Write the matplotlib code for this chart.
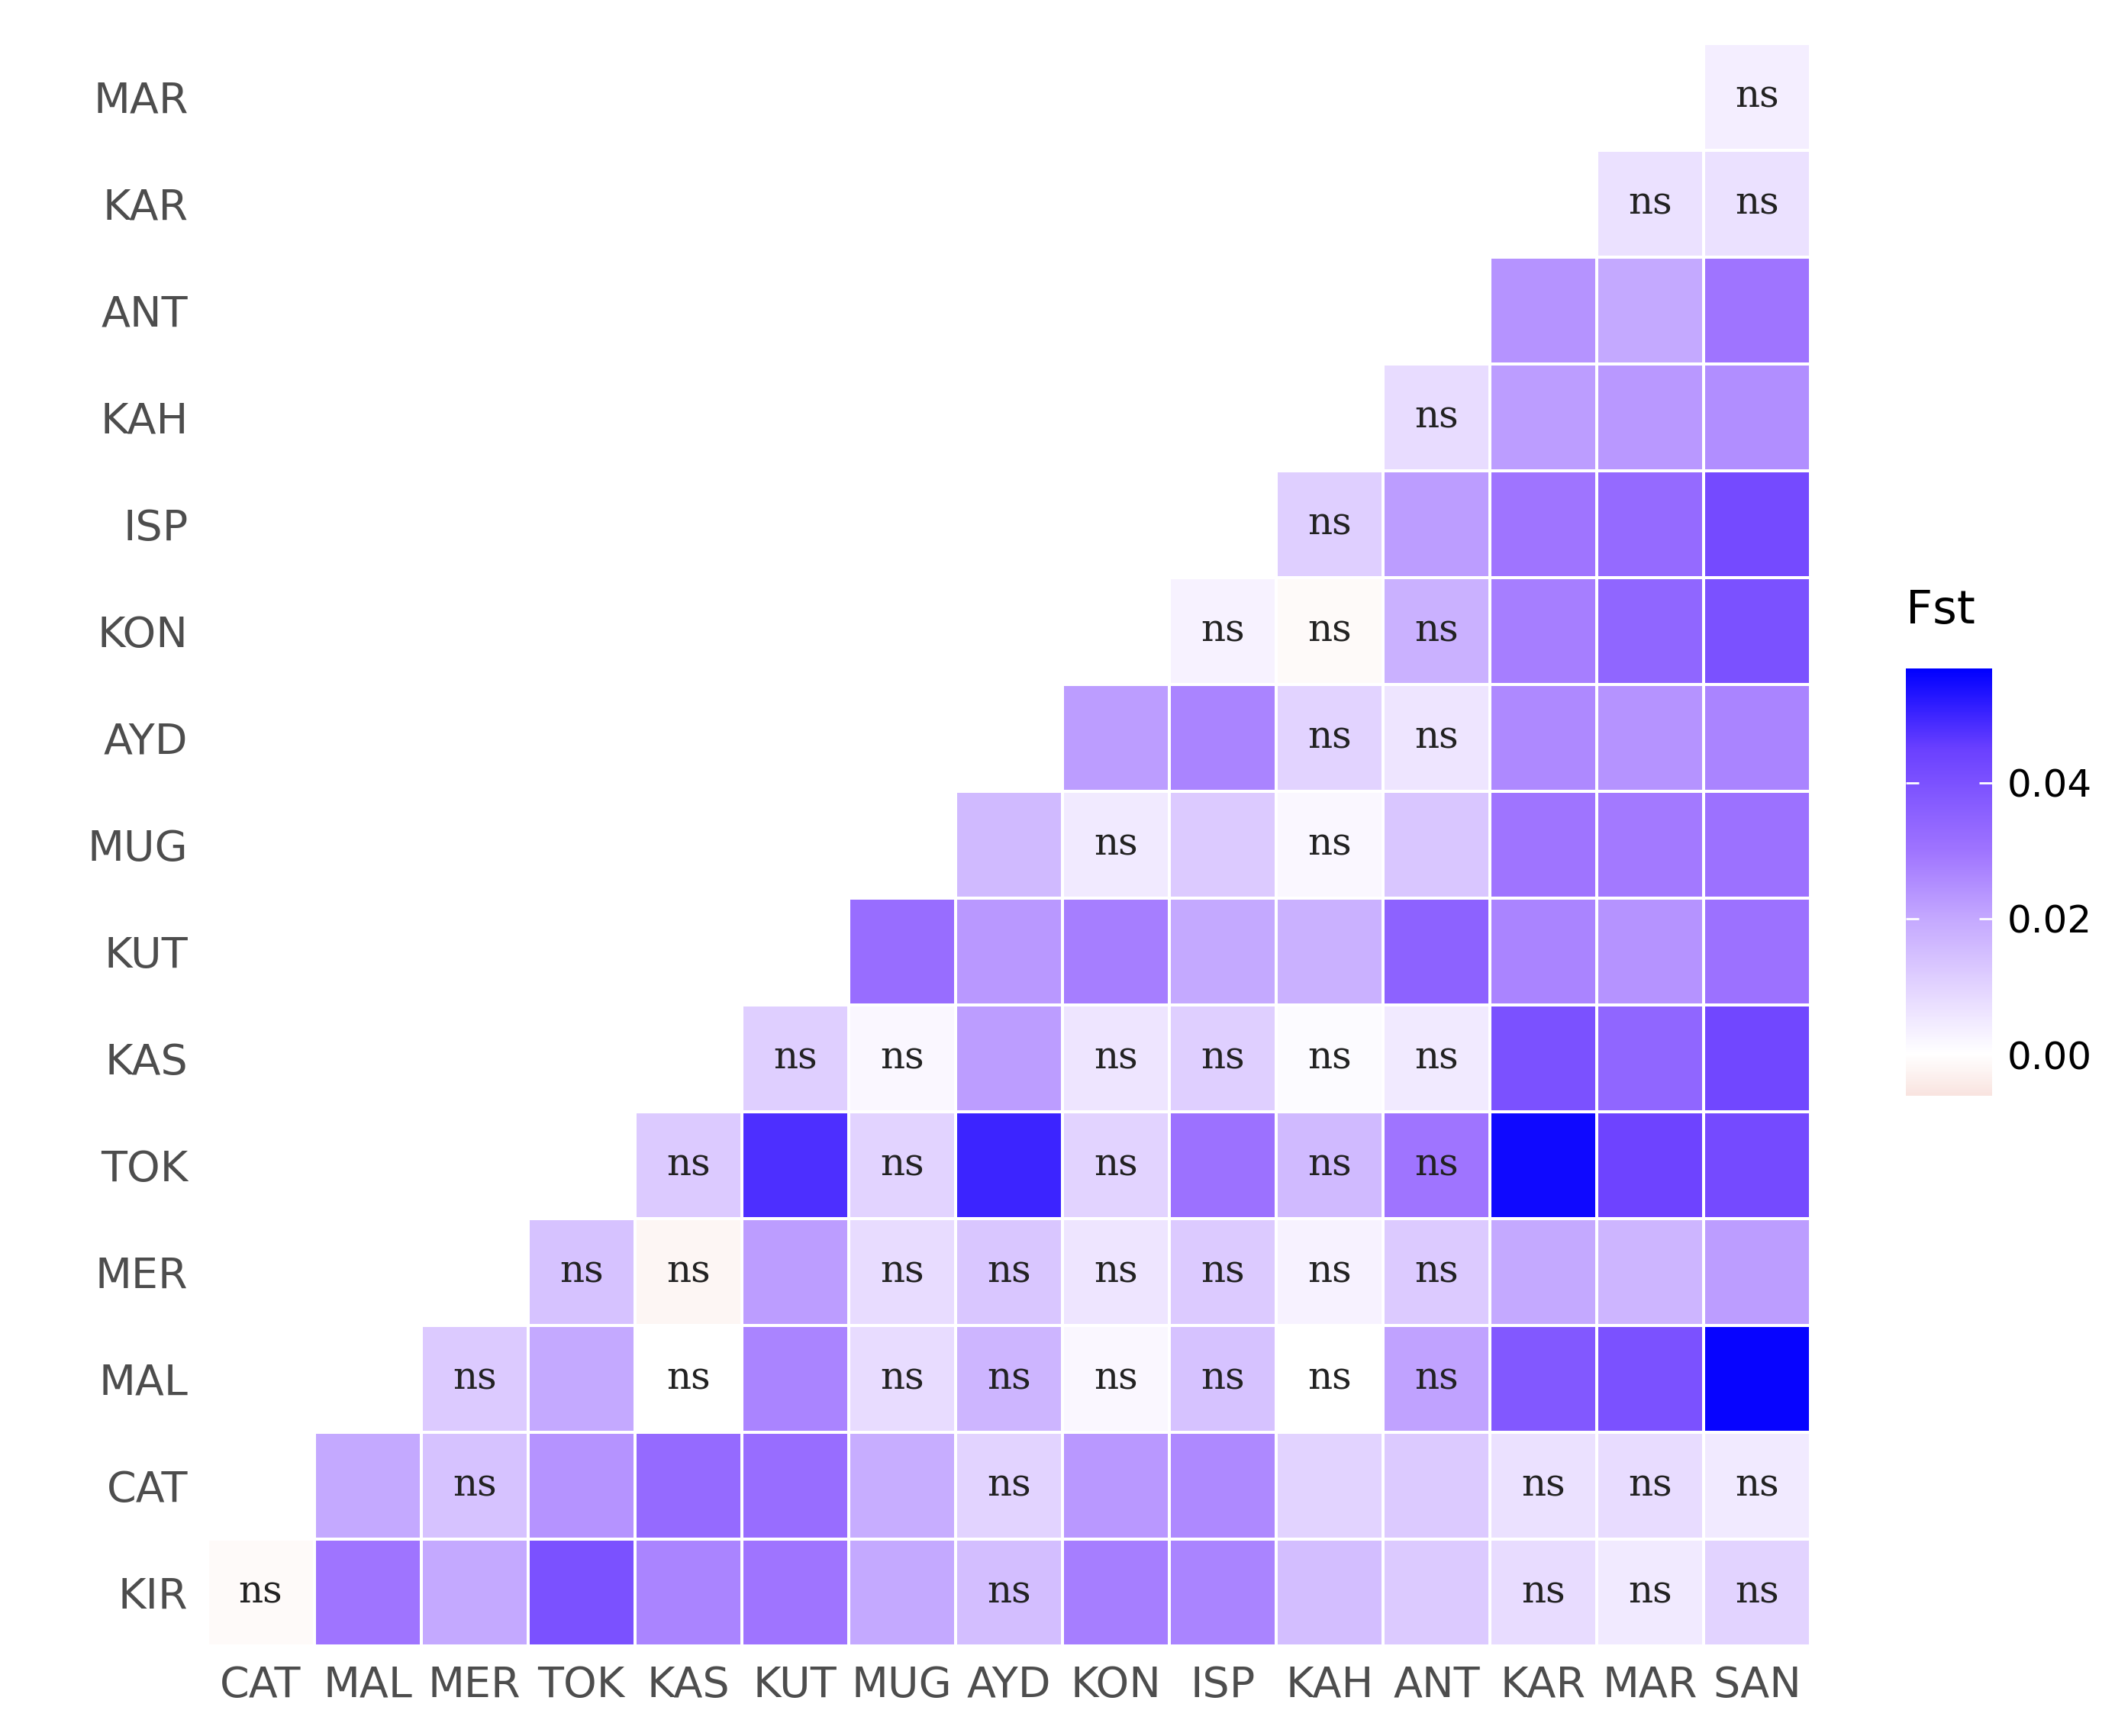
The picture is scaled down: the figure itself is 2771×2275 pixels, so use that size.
import numpy as np
import matplotlib.pyplot as plt
import matplotlib
from matplotlib.colors import LinearSegmentedColormap, Normalize

cols = ["CAT", "MAL", "MER", "TOK", "KAS", "KUT", "MUG", "AYD", "KON", "ISP", "KAH", "ANT", "KAR", "MAR", "SAN"]
rows = ["KIR", "CAT", "MAL", "MER", "TOK", "KAS", "KUT", "MUG", "AYD", "KON", "ISP", "KAH", "ANT", "KAR", "MAR"]

# Fst per row, starting at column index == row index
fst = [
    [-0.001, 0.030, 0.020, 0.040, 0.027, 0.030, 0.020, 0.015, 0.028, 0.027, 0.015, 0.012, 0.008, 0.005, 0.010],
    [0.020, 0.014, 0.024, 0.033, 0.032, 0.019, 0.010, 0.023, 0.026, 0.010, 0.012, 0.007, 0.008, 0.005],
    [0.012, 0.020, 0.000, 0.027, 0.008, 0.017, 0.002, 0.014, 0.000, 0.021, 0.038, 0.040, 0.056],
    [0.014, -0.002, 0.022, 0.008, 0.013, 0.006, 0.012, 0.003, 0.012, 0.020, 0.017, 0.022],
    [0.012, 0.048, 0.010, 0.050, 0.010, 0.031, 0.016, 0.030, 0.055, 0.044, 0.042],
    [0.011, 0.002, 0.022, 0.006, 0.011, 0.001, 0.005, 0.040, 0.034, 0.043],
    [0.032, 0.023, 0.028, 0.020, 0.018, 0.035, 0.027, 0.024, 0.031],
    [0.016, 0.005, 0.012, 0.002, 0.013, 0.030, 0.029, 0.031],
    [0.022, 0.027, 0.010, 0.006, 0.026, 0.024, 0.027],
    [0.003, -0.001, 0.018, 0.028, 0.034, 0.040],
    [0.011, 0.022, 0.030, 0.033, 0.042],
    [0.008, 0.022, 0.023, 0.025],
    [0.024, 0.020, 0.030],
    [0.007, 0.007],
    [0.004],
]
ns = [
    [1, 0, 0, 0, 0, 0, 0, 1, 0, 0, 0, 0, 1, 1, 1],
    [0, 1, 0, 0, 0, 0, 1, 0, 0, 0, 0, 1, 1, 1],
    [1, 0, 1, 0, 1, 1, 1, 1, 1, 1, 0, 0, 0],
    [1, 1, 0, 1, 1, 1, 1, 1, 1, 0, 0, 0],
    [1, 0, 1, 0, 1, 0, 1, 1, 0, 0, 0],
    [1, 1, 0, 1, 1, 1, 1, 0, 0, 0],
    [0, 0, 0, 0, 0, 0, 0, 0, 0],
    [0, 1, 0, 1, 0, 0, 0, 0],
    [0, 0, 1, 1, 0, 0, 0],
    [1, 1, 1, 0, 0, 0],
    [1, 0, 0, 0, 0],
    [1, 0, 0, 0],
    [0, 0, 0],
    [1, 1],
    [1],
]

vmin, vmax = -0.006, 0.0568
stops = [(-0.006, "#F9E4E0"), (0.0, "#FFFFFF"), (0.01, "#E2D3FF"), (0.02, "#C4A8FF"),
         (0.03, "#9F74FF"), (0.045, "#6A40FF"), (0.0568, "#0000FF")]
cmap = LinearSegmentedColormap.from_list(
    "fst", [((v - vmin) / (vmax - vmin), c) for v, c in stops])
norm = Normalize(vmin, vmax)

n = len(cols)
grid = np.full((n, n), np.nan)
for i, vals in enumerate(fst):
    for k, v in enumerate(vals):
        grid[i, i + k] = v

fig = plt.figure(figsize=(27.71, 22.75), dpi=100)
ax = fig.add_axes([0.098, 0.052, 0.758, 0.923])
mesh = ax.pcolormesh(np.arange(n + 1) - 0.5, np.arange(n + 1) - 0.5, np.ma.masked_invalid(grid),
                     cmap=cmap, norm=norm, edgecolor="white", linewidth=1.5)
for i, flags in enumerate(ns):
    for k, f in enumerate(flags):
        if f:
            ax.text(i + k, i, "ns", ha="center", va="center", fontsize=36,
                    family="DejaVu Serif", color="#222222")
ax.set_xlim(-0.5, n - 0.5)
ax.set_ylim(-0.5, n - 0.5)
ax.set_xticks(range(n), cols)
ax.set_yticks(range(n), rows)
ax.tick_params(length=0, labelsize=40, labelcolor="#4D4D4D", pad=18)
for s in ax.spines.values():
    s.set_visible(False)

cax = fig.add_axes([0.901, 0.369, 0.041, 0.246])
cb = fig.colorbar(mesh, cax=cax, ticks=[0.0, 0.02, 0.04])
cb.ax.set_yticklabels(["0.00", "0.02", "0.04"])
cb.outline.set_visible(False)
cb.ax.tick_params(labelsize=36, color="white", length=12, width=2, direction="in", pad=14)
cb.ax.yaxis.set_ticks_position("both")
fig.text(0.901, 0.635, "Fst", fontsize=44, ha="left", va="bottom")

fig.savefig("out.png", dpi=100)
